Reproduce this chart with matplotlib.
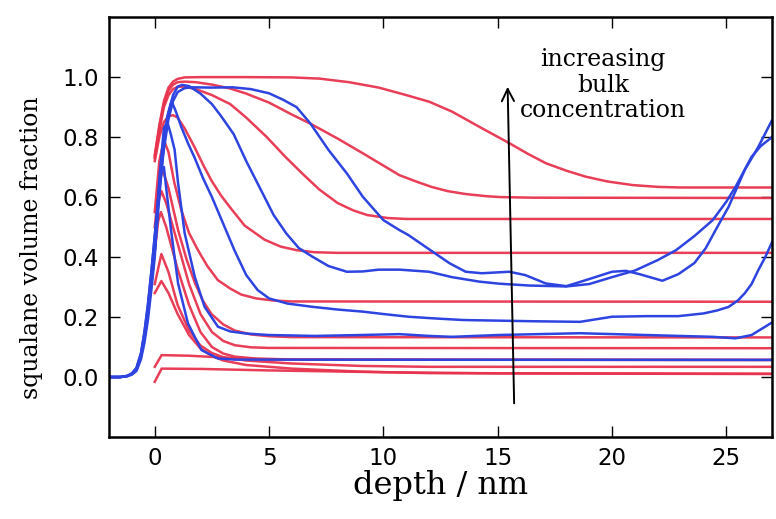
import matplotlib
matplotlib.use("Agg")
import matplotlib.pyplot as plt

# ---- model profiles (red), depth in nm, volume fraction ----
r1_x = [0, 0.2, 0.4, 0.6, 0.8, 1.0, 1.3, 2, 4, 6, 7.2, 8.5, 9.8, 11, 12, 13, 14.2, 15.5, 16.3, 17.1, 18, 18.85, 19.8, 20.9, 22, 23, 27]
r1_y = [0.74, 0.84, 0.92, 0.965, 0.985, 0.994, 0.999, 1.0, 1.0, 0.999, 0.995, 0.983, 0.965, 0.94, 0.918, 0.885, 0.834, 0.78, 0.745, 0.713, 0.688, 0.668, 0.652, 0.64, 0.634, 0.632, 0.632]
r2_x = [0, 0.2, 0.4, 0.6, 0.8, 1.0, 1.3, 1.8, 2.5, 3.3, 4.0, 5.0, 6.0, 6.8, 8.0, 9.1, 10.0, 10.7, 11.5, 12.1, 12.8, 13.6, 14.5, 15.1, 16.5, 27]
r2_y = [0.735, 0.83, 0.91, 0.955, 0.975, 0.983, 0.985, 0.983, 0.975, 0.962, 0.945, 0.915, 0.875, 0.845, 0.795, 0.746, 0.705, 0.673, 0.65, 0.634, 0.62, 0.61, 0.603, 0.6, 0.598, 0.597]
r3_x = [0, 0.2, 0.4, 0.6, 0.8, 1.0, 1.3, 1.8, 2.5, 3.3, 4.0, 4.9, 5.7, 6.5, 7.2, 8.0, 8.7, 9.3, 10.2, 11, 27]
r3_y = [0.73, 0.82, 0.9, 0.94, 0.96, 0.968, 0.968, 0.96, 0.94, 0.91, 0.865, 0.8, 0.735, 0.675, 0.625, 0.58, 0.555, 0.54, 0.53, 0.527, 0.527]
r4_x = [0, 0.2, 0.4, 0.6, 0.8, 1.0, 1.3, 1.75, 2.1, 2.48, 2.9, 3.3, 3.93, 4.8, 5.5, 6.2, 7.0, 8, 27]
r4_y = [0.72, 0.8, 0.85, 0.87, 0.873, 0.865, 0.83, 0.765, 0.71, 0.655, 0.605, 0.565, 0.505, 0.458, 0.435, 0.423, 0.416, 0.414, 0.414]
r5_x = [0, 0.2, 0.4, 0.6, 0.85, 1.16, 1.5, 1.89, 2.3, 2.76, 3.3, 3.78, 4.44, 5.2, 6, 27]
r5_y = [0.55, 0.72, 0.79, 0.75, 0.65, 0.557, 0.48, 0.423, 0.37, 0.323, 0.295, 0.275, 0.262, 0.255, 0.252, 0.251]
r6_x = [0, 0.2, 0.35, 0.6, 1.02, 1.4, 1.75, 2.1, 2.48, 3.0, 3.5, 4.2, 5, 6, 27]
r6_y = [0.5, 0.65, 0.69, 0.63, 0.49, 0.39, 0.315, 0.255, 0.21, 0.175, 0.155, 0.142, 0.136, 0.133, 0.132]
r7_x = [0, 0.15, 0.29, 0.5, 1.02, 1.5, 2.0, 2.5, 3.0, 3.5, 4.2, 5, 27]
r7_y = [0.45, 0.58, 0.62, 0.58, 0.44, 0.31, 0.21, 0.15, 0.12, 0.106, 0.099, 0.097, 0.096]
r8_x = [0, 0.15, 0.27, 0.5, 1.0, 1.5, 2.0, 2.5, 3.0, 3.5, 4.5, 6, 27]
r8_y = [0.42, 0.52, 0.55, 0.5, 0.36, 0.24, 0.15, 0.1, 0.078, 0.068, 0.061, 0.058, 0.057]
r9_x = [0, 0.29, 0.6, 1.0, 1.5, 2.0, 2.5, 3.0, 4.0, 6.0, 9.0, 12, 27]
r9_y = [0.31, 0.41, 0.35, 0.24, 0.155, 0.105, 0.08, 0.066, 0.055, 0.045, 0.037, 0.034, 0.034]
r10_x = [0, 0.29, 0.6, 1.0, 1.5, 2.0, 2.5, 3.0, 4.0, 6.0, 9.0, 12, 27]
r10_y = [0.28, 0.32, 0.28, 0.21, 0.14, 0.095, 0.07, 0.055, 0.04, 0.028, 0.018, 0.013, 0.011]
r11_x = [0, 0.3, 1.5, 2.5, 3.9, 6, 10, 27]
r11_y = [0.034, 0.073, 0.071, 0.067, 0.061, 0.059, 0.058, 0.057]
r12_x = [0, 0.3, 2, 5, 10, 15, 27]
r12_y = [-0.016, 0.028, 0.027, 0.022, 0.016, 0.012, 0.01]

# ---- measured profiles (blue) ----
b1_x = [-2, -1.5, -1.2, -1.0, -0.8, -0.6, -0.45, -0.3, -0.15, 0, 0.2, 0.4, 0.6, 0.8, 1.0, 1.3, 1.6, 2.5, 3.4, 4.2, 5.0, 5.6, 6.2, 6.8, 7.6, 8.4, 9.1, 10.0, 10.7, 11.1, 12.15, 12.9, 13.6, 14.3, 15.5, 16.2, 17.1, 18.0, 18.85, 20.0, 20.6, 21.2, 22.2, 22.9, 23.6, 24.1, 24.6, 25.1, 25.8, 26.4, 27]
b1_y = [0, 0, 0.004, 0.012, 0.03, 0.08, 0.15, 0.24, 0.35, 0.47, 0.63, 0.76, 0.86, 0.92, 0.95, 0.963, 0.966, 0.965, 0.966, 0.96, 0.946, 0.925, 0.9, 0.846, 0.757, 0.679, 0.601, 0.523, 0.49, 0.473, 0.418, 0.379, 0.351, 0.346, 0.351, 0.34, 0.312, 0.303, 0.323, 0.351, 0.354, 0.343, 0.321, 0.343, 0.38, 0.43, 0.5, 0.568, 0.69, 0.768, 0.857]
b2_x = [-2, -1.5, -1.2, -1.0, -0.8, -0.6, -0.45, -0.3, -0.15, 0, 0.2, 0.4, 0.6, 0.8, 1.0, 1.2, 1.5, 2.0, 2.5, 2.9, 3.45, 4.0, 4.7, 5.2, 5.75, 6.3, 6.9, 7.6, 8.4, 9.1, 9.8, 10.7, 12.0, 13.0, 14.2, 15.1, 16.4, 18.0, 19.0, 20.0, 21.0, 22.0, 22.8, 23.6, 24.4, 25.0, 25.4, 26.1, 26.5, 27]
b2_y = [0, 0, 0.004, 0.012, 0.03, 0.08, 0.15, 0.24, 0.35, 0.47, 0.64, 0.78, 0.88, 0.94, 0.968, 0.974, 0.97, 0.945, 0.91, 0.87, 0.81, 0.72, 0.615, 0.54, 0.479, 0.43, 0.401, 0.37, 0.351, 0.352, 0.358, 0.358, 0.351, 0.333, 0.318, 0.311, 0.305, 0.302, 0.31, 0.333, 0.355, 0.39, 0.423, 0.47, 0.523, 0.585, 0.634, 0.734, 0.77, 0.8]
b3_x = [-2, -1.5, -1.2, -1.0, -0.8, -0.6, -0.45, -0.3, -0.15, 0, 0.2, 0.4, 0.55, 0.73, 0.9, 1.16, 1.45, 1.75, 2.1, 2.5, 3.0, 3.5, 4.0, 4.5, 5.0, 5.8, 6.9, 8.0, 9.1, 10.0, 11.1, 12.1, 13.5, 15.0, 16.5, 18.6, 20.0, 21.5, 22.9, 24.0, 24.6, 25.1, 25.5, 25.8, 26.1, 26.4, 26.7, 27]
b3_y = [0, 0, 0.003, 0.01, 0.025, 0.07, 0.13, 0.21, 0.31, 0.42, 0.6, 0.78, 0.87, 0.92, 0.89, 0.834, 0.78, 0.73, 0.665, 0.6, 0.51, 0.42, 0.34, 0.29, 0.262, 0.245, 0.234, 0.225, 0.218, 0.21, 0.201, 0.196, 0.19, 0.188, 0.186, 0.184, 0.201, 0.203, 0.203, 0.212, 0.222, 0.234, 0.255, 0.279, 0.31, 0.357, 0.4, 0.45]
b4_x = [-2, -1.5, -1.2, -1.0, -0.8, -0.6, -0.45, -0.3, -0.15, 0, 0.2, 0.4, 0.55, 0.7, 0.87, 1.02, 1.31, 1.75, 2.18, 2.76, 3.3, 4.0, 5, 7, 9, 10.7, 12, 13, 15, 18.6, 21.5, 24.4, 25.4, 26.1, 26.7, 27]
b4_y = [0, 0, 0.003, 0.01, 0.025, 0.07, 0.13, 0.21, 0.31, 0.42, 0.66, 0.83, 0.85, 0.81, 0.757, 0.646, 0.479, 0.334, 0.234, 0.168, 0.152, 0.145, 0.14, 0.137, 0.14, 0.143, 0.137, 0.134, 0.14, 0.146, 0.14, 0.134, 0.129, 0.14, 0.168, 0.182]
b5_x = [-2, -1.5, -1.2, -1.0, -0.8, -0.6, -0.45, -0.3, -0.15, 0, 0.15, 0.3, 0.4, 0.5, 0.73, 1.02, 1.45, 2.04, 2.76, 3.5, 27]
b5_y = [0, 0, 0.003, 0.008, 0.02, 0.06, 0.115, 0.19, 0.29, 0.40, 0.58, 0.70, 0.70, 0.63, 0.479, 0.312, 0.179, 0.09, 0.062, 0.058, 0.057]

red_curves = [(r1_x, r1_y), (r2_x, r2_y), (r3_x, r3_y), (r4_x, r4_y), (r5_x, r5_y), (r6_x, r6_y),
              (r7_x, r7_y), (r8_x, r8_y), (r9_x, r9_y), (r10_x, r10_y), (r11_x, r11_y), (r12_x, r12_y)]
blue_curves = [(b1_x, b1_y), (b2_x, b2_y), (b3_x, b3_y), (b4_x, b4_y), (b5_x, b5_y)]

x_ticks = [0, 5, 10, 15, 20, 25]
y_ticks = [0.0, 0.2, 0.4, 0.6, 0.8, 1.0]

RED = '#e8334f'
BLUE = '#2e44e0'

plt.rcParams['xtick.direction'] = 'in'
plt.rcParams['ytick.direction'] = 'in'

fig = plt.figure(figsize=(7.76, 5.19), dpi=100)
ax = fig.add_axes([0.1405, 0.158, 0.8545, 0.809])

for x, y in red_curves:
    ax.plot(x, y, color=RED, linewidth=1.8, alpha=0.95)
for x, y in blue_curves:
    ax.plot(x, y, color=BLUE, linewidth=1.8)

ax.annotate('', xy=(15.43, 0.977), xytext=(15.72, -0.097),
            arrowprops=dict(arrowstyle='->', color='black', lw=1.4, mutation_scale=22))
ax.text(19.6, 0.973, 'increasing\nbulk\nconcentration', ha='center', va='center',
        family='DejaVu Serif', fontsize=17, linespacing=1.15)

ax.set_xlim(-2, 27)
ax.set_ylim(-0.2, 1.2)
ax.set_xticks(x_ticks)
ax.set_yticks(y_ticks)
ax.tick_params(axis='both', which='major', length=8, width=1, labelsize=16.5,
               top=True, right=True, pad=7)
for s in ax.spines.values():
    s.set_linewidth(1.8)

ax.set_xlabel('depth / nm', family='DejaVu Serif', fontsize=23, labelpad=0)
ax.set_ylabel('squalane volume fraction', family='DejaVu Serif', fontsize=17)
ax.yaxis.set_label_coords(-0.1, 0.45)

fig.savefig('out.png', dpi=100)
